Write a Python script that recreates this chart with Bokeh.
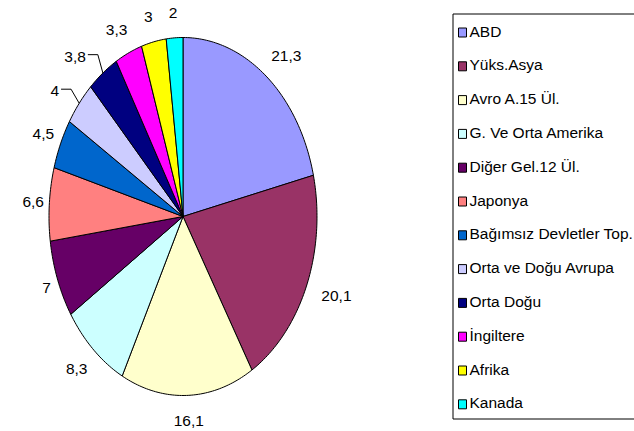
import math
from bokeh.plotting import figure
from bokeh.models import Range1d
from bokeh.core.properties import value
from bokeh.embed import file_html
from bokeh.resources import INLINE

# ---- data ----
categories = ["ABD", "Yüks.Asya", "Avro A.15 Ül.", "G. Ve Orta Amerika", "Diğer Gel.12 Ül.",
              "Japonya", "Bağımsız Devletler Top.", "Orta ve Doğu Avrupa", "Orta Doğu",
              "İngiltere", "Afrika", "Kanada"]
shares = [21.3, 20.1, 16.1, 8.3, 7.0, 6.6, 4.5, 4.0, 3.8, 3.3, 3.0, 2.0]
value_labels = ["21,3", "20,1", "16,1", "8,3", "7", "6,6", "4,5", "4", "3,8", "3,3", "3", "2"]
colors = ["#9999FF", "#993366", "#FFFFCC", "#CCFFFF", "#660066", "#FF8080",
          "#0066CC", "#CCCCFF", "#000080", "#FF00FF", "#FFFF00", "#00FFFF"]
leader_labels = ["Orta ve Doğu Avrupa", "Orta Doğu"]

# ---- layout ----
W, H = 634, 431
FONT = "Liberation Sans"
FS = 15.5
cx, cy = 182.5, H - 216.0
rx, ry = 134.0, 179.0

p = figure(width=W, height=H, output_backend="svg", toolbar_location=None,
           x_range=Range1d(0, W), y_range=Range1d(0, H),
           x_axis_type=None, y_axis_type=None, min_border=0)
p.grid.visible = False
p.outline_line_color = None
p.background_fill_color = "white"

total = sum(shares)
xs, ys = [], []
mids = []
acc = 0.0
for s in shares:
    a0 = acc / total * 2 * math.pi
    acc += s
    a1 = acc / total * 2 * math.pi
    n = max(8, int((a1 - a0) / (2 * math.pi) * 360))
    px = [cx]
    py = [cy]
    for i in range(n + 1):
        t = a0 + (a1 - a0) * i / n
        px.append(cx + rx * math.sin(t))
        py.append(cy + ry * math.cos(t))
    xs.append(px)
    ys.append(py)
    mids.append((a0 + a1) / 2)

p.patches(xs=xs, ys=ys, fill_color=colors, line_color="black", line_width=1)

# value labels
def text_w(s):
    return sum(0.278 if c == "," else 0.556 for c in s) * FS

ky = 1.10
hh = 7.5
lx, ly = [], []
for lab, cat, t in zip(value_labels, categories, mids):
    sx, cs = math.sin(t), math.cos(t)
    kx = 1.13 if sx > 0 else 1.04 + 0.12 * cs * cs
    hw = text_w(lab) / 2
    x = cx + (rx * kx + hw) * sx
    y = cy + (ry * ky + hh) * cs
    if cat in leader_labels:
        x -= 12
        y -= 4
        ex = cx + rx * sx
        ey = cy + ry * cs
        x0 = x + hw + 2
        yl = y + 2
        p.line([x0, x0 + 10, ex], [yl, yl, ey], line_color="black", line_width=1)
    lx.append(x)
    ly.append(y)

p.text(x=lx, y=ly, text=value_labels, text_font=value(FONT), text_font_size=f"{FS}px",
       text_align="center", text_baseline="middle", text_color="black")

# legend box (open at the right: it runs to the page edge)
box_l, box_t, box_b = 452.5, H - 13.5, H - 418.5
p.multi_line(xs=[[box_l, W], [box_l, box_l], [box_l, W]],
             ys=[[box_t, box_t], [box_t, box_b], [box_b, box_b]],
             line_color="black", line_width=1)
row0 = H - 30.5
step = 33.8
ty = [row0 - i * step for i in range(len(categories))]
p.quad(left=[458] * len(categories), right=[466] * len(categories),
       top=[y + 3 for y in ty], bottom=[y - 6 for y in ty],
       fill_color=colors, line_color="black", line_width=1)
p.text(x=[469] * len(categories), y=ty, text=categories, text_font=value(FONT),
       text_font_size=f"{FS}px", text_align="left", text_baseline="middle", text_color="black")

open("out.html", "w").write(file_html(p, INLINE))
